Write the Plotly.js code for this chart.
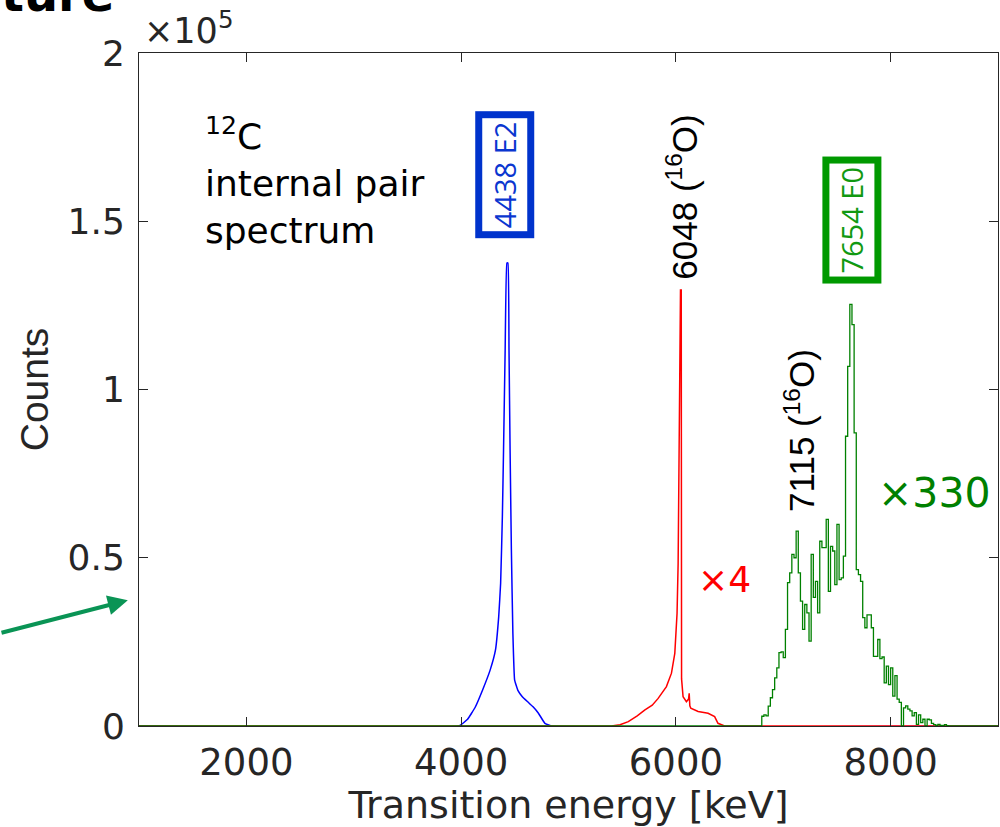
<!DOCTYPE html>
<html>
<head>
<meta charset="utf-8">
<script src="https://cdn.plot.ly/plotly-3.0.1.min.js"></script>
<style>html,body{margin:0;padding:0;background:#fff;}#chart{width:1000px;height:827px;}</style>
</head>
<body>
<div id="chart"></div>
<script>
// Values in units of 10^5 counts (as displayed; red x4, green x330)
const blueEnergy = [1000, 3980, 4060, 4130, 4200, 4270, 4320, 4350, 4368, 4384, 4395, 4410, 4426, 4436, 4446, 4456, 4468, 4482, 4498, 4530, 4570, 4620, 4670, 4720, 4780, 4840, 9000];
const blueCounts = [0, 0, 0.02, 0.055, 0.107, 0.166, 0.226, 0.325, 0.425, 0.622, 0.82, 1.117, 1.376, 1.376, 1.117, 0.82, 0.523, 0.276, 0.137, 0.105, 0.087, 0.072, 0.057, 0.038, 0.008, 0, 0];

const redEnergy = [1000, 5400, 5480, 5557, 5640, 5712, 5780, 5835, 5912, 5959, 5990, 6011, 6021, 6030, 6037, 6043, 6050, 6053, 6067, 6098, 6118, 6124, 6130, 6139, 6207, 6300, 6361, 6392, 6454, 9000];
const redCounts = [0, 0, 0.004, 0.013, 0.03, 0.048, 0.062, 0.082, 0.117, 0.157, 0.216, 0.335, 0.483, 0.83, 1.226, 1.296, 1.296, 0.14, 0.087, 0.072, 0.08, 0.097, 0.06, 0.053, 0.043, 0.038, 0.028, 0.008, 0, 0];

const greenBinEdges = [6800, 6820, 6840, 6860, 6880, 6900, 6920, 6940, 6960, 6980,
  7000, 7020, 7040, 7060, 7080, 7100, 7120, 7140, 7160, 7180,
  7200, 7220, 7240, 7260, 7280, 7300, 7320, 7340, 7360, 7380,
  7400, 7420, 7440, 7460, 7480, 7500, 7520, 7540, 7560, 7580,
  7600, 7620, 7640, 7660, 7680, 7700, 7720, 7740, 7760, 7780,
  7800, 7820, 7840, 7860, 7880, 7900, 7920, 7940, 7960, 7980,
  8000, 8020, 8040, 8060, 8080, 8100, 8120, 8140, 8160, 8180,
  8200, 8220, 8240, 8260, 8280, 8300, 8320, 8340, 8360, 8380,
  8400, 8420, 8440, 8460, 8480, 8500, 8520, 8540];
const greenCounts = [0.029, 0.033, 0.030, 0.059, 0.084, 0.108, 0.143, 0.173, 0.218, 0.220,
  0.203, 0.287, 0.426, 0.455, 0.510, 0.500, 0.579, 0.455, 0.371, 0.287,
  0.361, 0.336, 0.252, 0.510, 0.382, 0.430, 0.336, 0.549, 0.530, 0.530,
  0.614, 0.400, 0.534, 0.520, 0.420, 0.599, 0.435, 0.440, 0.505, 0.861,
  1.069, 1.253, 1.193, 0.871, 0.465, 0.450, 0.430, 0.322, 0.292, 0.330,
  0.330, 0.292, 0.207, 0.207, 0.257, 0.200, 0.205, 0.128, 0.178, 0.123,
  0.173, 0.089, 0.150, 0.080, 0.070, 0.000, 0.054, 0.060, 0.050, 0.045,
  0.030, 0.040, 0.005, 0.033, 0.010, 0.020, 0.000, 0.020, 0.018, 0.008,
  0.004, 0.002, 0.005, 0.002, 0.001, 0.004, 0.001, 0.000];
const greenEnd = 8560;

const xRange = [1000, 9000];
const yRange = [0, 2];
const xTicks = [2000, 4000, 6000, 8000];
const yTicks = [0, 0.5, 1, 1.5, 2];
const yTickText = ['0', '0.5', '1', '1.5', '2'];

const greenX = [xRange[0]].concat(greenBinEdges, [greenEnd, xRange[1]]);
const greenY = [0].concat(greenCounts, [0, 0]);

const axisColor = '#262626';
const wideFont = 'DejaVu Sans, Verdana, sans-serif';
const mainFont = 'Liberation Sans, Arial, sans-serif';

const traces = [
  {x: blueEnergy, y: blueCounts, type: 'scatter', mode: 'lines', line: {color: '#0000ff', width: 1.5, shape: 'spline', smoothing: 0.3}, hoverinfo: 'skip'},
  {x: redEnergy, y: redCounts, type: 'scatter', mode: 'lines', line: {color: '#ff0000', width: 1.5}, hoverinfo: 'skip'},
  {x: greenX, y: greenY, type: 'scatter', mode: 'lines', line: {color: '#008000', width: 1.3, shape: 'hv'}, hoverinfo: 'skip'}
];

const annotations = [
  {xref: 'paper', yref: 'paper', x: 0.003, y: 1.0, xanchor: 'left', yanchor: 'bottom', showarrow: false,
   text: '×10<sup>5</sup>', font: {family: wideFont, size: 35, color: axisColor}},
  {xref: 'x', yref: 'y', x: 1594, y: 1.62, xanchor: 'left', yanchor: 'middle', align: 'left', showarrow: false,
   text: '<sup>12</sup>C<br>internal pair<br>spectrum', font: {family: wideFont, size: 36, color: '#000000'}},
  {xref: 'x', yref: 'y', x: 4406, y: 1.639, xanchor: 'center', yanchor: 'middle', textangle: -90, showarrow: false,
   text: '4438 E2', font: {family: 'Open Sans, sans-serif', size: 29, color: '#0a36d0'},
   bordercolor: '#0033cc', borderwidth: 7, borderpad: 3, bgcolor: '#ffffff'},
  {xref: 'x', yref: 'y', x: 7640, y: 1.505, xanchor: 'center', yanchor: 'middle', textangle: -90, showarrow: false,
   text: '7654 E0', font: {family: 'Open Sans, sans-serif', size: 29, color: '#119911'},
   bordercolor: '#009900', borderwidth: 7, borderpad: 3, bgcolor: '#ffffff'},
  {xref: 'x', yref: 'y', x: 6060, y: 1.571, xanchor: 'center', yanchor: 'middle', textangle: -90, showarrow: false,
   text: '6048 (<sup>16</sup>O)', font: {family: mainFont, size: 35, color: '#000000'}},
  {xref: 'x', yref: 'y', x: 7150, y: 0.878, xanchor: 'center', yanchor: 'middle', textangle: -90, showarrow: false,
   text: '7115 (<sup>16</sup>O)', font: {family: mainFont, size: 35, color: '#000000'}},
  {xref: 'x', yref: 'y', x: 7860, y: 0.691, xanchor: 'left', yanchor: 'middle', showarrow: false,
   text: '×330', font: {family: wideFont, size: 41, color: '#008000'}},
  {xref: 'x', yref: 'y', x: 6190, y: 0.435, xanchor: 'left', yanchor: 'middle', showarrow: false,
   text: '×4', font: {family: wideFont, size: 36, color: '#ff0000'}},
  {xref: 'paper', yref: 'paper', x: -0.013, y: 0.187, showarrow: true, text: '',
   ax: -140, ay: 33, axref: 'pixel', ayref: 'pixel', arrowhead: 2, arrowsize: 1, arrowwidth: 4, arrowcolor: '#0a9455'},
  {xref: 'paper', yref: 'paper', x: -0.163, y: 1.043, xanchor: 'left', yanchor: 'bottom', showarrow: false,
   text: '<b>ture</b>', font: {family: 'DejaVu Sans, sans-serif', size: 48, color: '#000000'}}
];

const layout = {
  width: 1000, height: 827,
  margin: {l: 139, r: 2, t: 53, b: 101, pad: 0},
  paper_bgcolor: '#ffffff', plot_bgcolor: '#ffffff',
  showlegend: false,
  xaxis: {
    range: xRange, tickvals: xTicks, ticks: 'inside', ticklen: 9, tickwidth: 1, tickcolor: axisColor,
    showline: true, linecolor: axisColor, linewidth: 1, mirror: 'ticks', showgrid: false, zeroline: false,
    tickfont: {family: wideFont, size: 37, color: axisColor}, ticklabelstandoff: 4,
    title: {text: 'Transition energy [keV]', font: {family: wideFont, size: 38, color: axisColor}, standoff: 0}
  },
  yaxis: {
    range: yRange, tickvals: yTicks, ticktext: yTickText, ticks: 'inside', ticklen: 9, tickwidth: 1, tickcolor: axisColor,
    showline: true, linecolor: axisColor, linewidth: 1, mirror: 'ticks', showgrid: false, zeroline: false,
    tickfont: {family: wideFont, size: 36, color: axisColor}, ticklabelstandoff: 6,
    title: {text: 'Counts', font: {family: mainFont, size: 39, color: axisColor}, standoff: 6}
  },
  annotations: annotations
};

Plotly.newPlot('chart', traces, layout, {staticPlot: true, displayModeBar: false});
</script>
</body>
</html>
